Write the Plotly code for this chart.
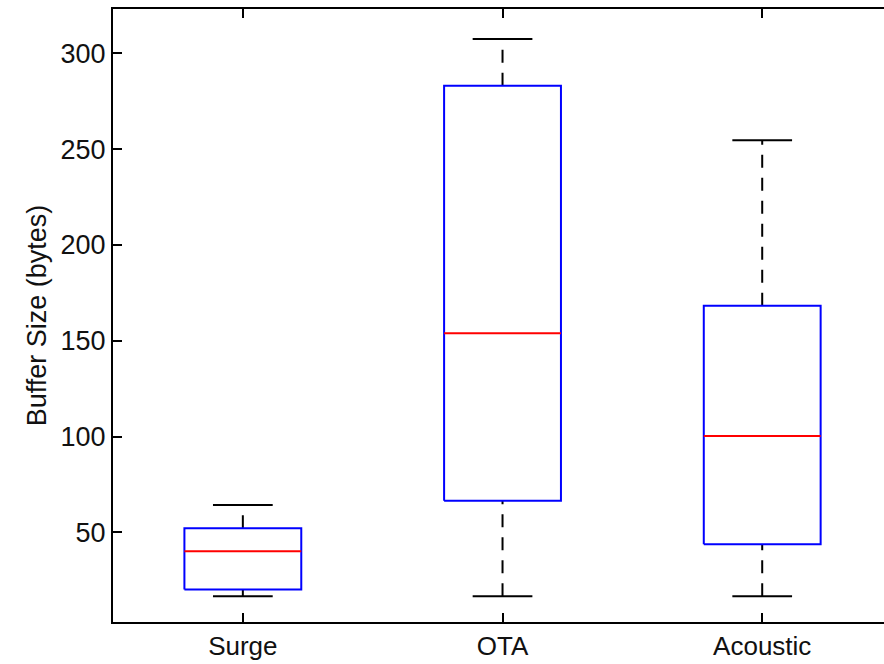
import plotly.graph_objects as go

# ---- data ----
categories = ["Surge", "OTA", "Acoustic"]
lower_whisker = [16.7, 16.7, 16.7]
q1 = [20.2, 66.5, 43.8]
median = [40.1, 153.9, 100.3]
q3 = [52.1, 283.1, 168.3]
upper_whisker = [64.2, 307.5, 254.6]
y_ticks = [50, 100, 150, 200, 250, 300]

# ---- styling constants ----
BOX_HALF = 0.225
CAP_HALF = 0.115
FONT = "Liberation Sans, Arial, Helvetica, sans-serif"

positions = list(range(1, len(categories) + 1))

box_x, box_y = [], []
med_x, med_y = [], []
wh_x, wh_y = [], []
cap_x, cap_y = [], []
for p, lo, a, m, b, hi in zip(positions, lower_whisker, q1, median, q3, upper_whisker):
    box_x += [p - BOX_HALF, p + BOX_HALF, p + BOX_HALF, p - BOX_HALF, p - BOX_HALF, None]
    box_y += [a, a, b, b, a, None]
    med_x += [p - BOX_HALF, p + BOX_HALF, None]
    med_y += [m, m, None]
    # whiskers drawn from low value to high value
    wh_x += [p, p, None, p, p, None]
    wh_y += [lo, a, None, b, hi, None]
    cap_x += [p - CAP_HALF, p + CAP_HALF, None, p - CAP_HALF, p + CAP_HALF, None]
    cap_y += [lo, lo, None, hi, hi, None]

fig = go.Figure()
fig.add_trace(go.Scatter(x=wh_x, y=wh_y, mode="lines",
                         line=dict(color="black", width=2, dash="13px,10px"),
                         hoverinfo="skip", showlegend=False))
fig.add_trace(go.Scatter(x=cap_x, y=cap_y, mode="lines",
                         line=dict(color="black", width=2),
                         hoverinfo="skip", showlegend=False))
fig.add_trace(go.Scatter(x=box_x, y=box_y, mode="lines",
                         line=dict(color="#0000FF", width=2),
                         hoverinfo="skip", showlegend=False))
fig.add_trace(go.Scatter(x=med_x, y=med_y, mode="lines",
                         line=dict(color="#FF0000", width=2),
                         hoverinfo="skip", showlegend=False))

y_range = [3.2, 323.1]

fig.update_layout(
    width=884, height=664,
    margin=dict(l=113, r=0, t=9, b=42),
    paper_bgcolor="white", plot_bgcolor="white",
    font=dict(family=FONT, size=26, color="#111111"),
    xaxis=dict(
        range=[0.5, 3.469],
        tickmode="array", tickvals=positions, ticktext=categories,
        ticks="inside", ticklen=9, tickwidth=2, tickcolor="black",
        showline=True, linecolor="black", linewidth=2, mirror="ticks",
        showgrid=False, zeroline=False,
        tickfont=dict(size=26, color="#111111"),
    ),
    yaxis=dict(
        range=y_range,
        tickmode="array", tickvals=y_ticks,
        ticks="inside", ticklen=9, tickwidth=2, tickcolor="black",
        showline=True, linecolor="black", linewidth=2, mirror=False,
        showgrid=False, zeroline=False,
        tickfont=dict(size=27, color="#111111"),
        title=dict(text="Buffer Size (bytes)", font=dict(size=27, color="#111111"), standoff=6),
    ),
    yaxis2=dict(
        range=y_range, overlaying="y", side="right",
        tickmode="array", tickvals=y_ticks,
        ticks="inside", ticklen=2, tickwidth=2, tickcolor="#888888",
        showticklabels=False, showline=False, showgrid=False, zeroline=False,
    ),
)

fig.write_html(
    "out.html",
    config={"displayModeBar": False, "staticPlot": True},
    post_script="document.body.style.margin='0px';document.body.style.overflow='hidden';",
)
